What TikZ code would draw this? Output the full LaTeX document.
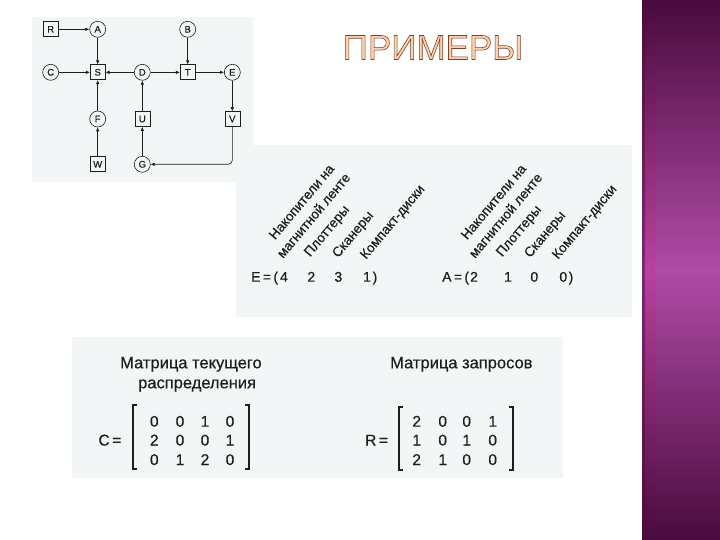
\documentclass[tikz,border=0pt]{standalone}
\usepackage{fontspec}
\setmainfont{Liberation Sans}
\setsansfont{Liberation Sans}
\newfontfamily\medfont[FakeBold=0.45]{Liberation Sans}
\usetikzlibrary{arrows.meta}
\definecolor{panel}{HTML}{F2F6F6}
\definecolor{pdark}{HTML}{4A0B3E}
\definecolor{pmid}{HTML}{B04BA6}
\definecolor{pstripe}{HTML}{C03C9C}
\definecolor{ink}{HTML}{1E1E1E}
\definecolor{titlefill}{HTML}{F9D3B0}
\newcommand{\fsz}[1]{\medfont\fontsize{#1}{#1}\selectfont}
\tikzset{
  gnode/.style={draw=ink, line width=0.6pt, fill=panel, text=ink, font=\fsz{9.5}, inner sep=0pt},
  sqnode/.style={gnode, rectangle, minimum size=15pt},
  cirnode/.style={gnode, circle, minimum size=16pt},
  garrow/.style={-{Latex[length=4pt,width=3.5pt]}, draw=ink, line width=0.6pt},
  panelbox/.style={fill=panel, draw=none},
  lbl/.style={anchor=base west, rotate=50, inner sep=0pt, text=ink, font=\fsz{13.5}},
  vec/.style={anchor=base, inner sep=0pt, text=ink, font=\fsz{14}},
  num/.style={anchor=base, inner sep=0pt, text=ink, font=\fsz{15.5}},
  head/.style={anchor=base west, inner sep=0pt, text=ink, font=\fsz{16.5}},
  brk/.style={draw=ink, line width=1.3pt}
}
\begin{document}
\begin{tikzpicture}[x=1pt,y=-1pt]
\useasboundingbox (0,0) rectangle (720,540);
\fill[white] (0,0) rectangle (720,540);
% purple side panel
\shade[top color=pdark, bottom color=pdark, middle color=pmid] (642,0) rectangle (720,540);
\shade[top color=pdark, bottom color=pdark, middle color=pstripe, opacity=0.7] (645,0) rectangle (655,540);
\fill[pdark, opacity=0.5] (642,0) rectangle (645,540);

% panels
\fill[panelbox] (32,17) rectangle (253,182);
\fill[panelbox] (236,145) rectangle (632,317);
\fill[panelbox] (72,337) rectangle (563,478);

% title
\node[inner sep=0pt, font=\fontsize{35}{35}\selectfont] (title) at (433,47.5)
  {\color{titlefill}\special{pdf:literal direct 2 Tr 0.6 w 0.5 0.25 0.15 RG}ПРИМЕРЫ\special{pdf:literal direct 0 Tr}};

% graph
\node[sqnode] (R) at (50.7,29.3) {R};
\node[cirnode] (A) at (97.7,29.3) {A};
\node[cirnode] (B) at (187.7,29.3) {B};
\node[cirnode] (C) at (50.7,72.3) {C};
\node[sqnode] (S) at (97.7,72.3) {S};
\node[cirnode] (D) at (142.3,72.3) {D};
\node[sqnode] (T) at (187.7,72.3) {T};
\node[cirnode] (E) at (232.3,72.3) {E};
\node[cirnode] (F) at (97.7,119) {F};
\node[sqnode] (U) at (142.3,119) {U};
\node[sqnode] (V) at (232.3,119) {V};
\node[sqnode] (W) at (97.7,164.3) {W};
\node[cirnode] (G) at (142.3,164.3) {G};
\draw[garrow] (R) -- (A);
\draw[garrow] (A) -- (S);
\draw[garrow] (C) -- (S);
\draw[garrow] (D) -- (S);
\draw[garrow] (D) -- (T);
\draw[garrow] (B) -- (T);
\draw[garrow] (T) -- (E);
\draw[garrow] (E) -- (V);
\draw[garrow] (F) -- (S);
\draw[garrow] (W) -- (F);
\draw[garrow] (U) -- (D);
\draw[garrow] (G) -- (U);
\draw[garrow, rounded corners=4pt] (V.south) |- (G.east);

% resource vectors
\node[lbl] (e1) at (275,240.5) {Накопители на};
\node[lbl] (e2) at (283,259) {магнитной ленте};
\node[lbl] (e3) at (310,257.5) {Плоттеры};
\node[lbl] (e4) at (338,258.5) {Сканеры};
\node[lbl] (e5) at (366,260) {Компакт-диски};
\node[vec, anchor=base west] (Eeq) at (251,281.7) {E\,=\,(};
\node[vec] (E1) at (284,281.7) {4};
\node[vec] (E2) at (311.3,281.7) {2};
\node[vec] (E3) at (338.3,281.7) {3};
\node[vec] (E4) at (367,281.7) {1};
\node[vec] (Ecl) at (375,281.7) {)};

\node[lbl] (a1) at (467,240.5) {Накопители на};
\node[lbl] (a2) at (475,259) {магнитной ленте};
\node[lbl] (a3) at (502,257.5) {Плоттеры};
\node[lbl] (a4) at (530,258.5) {Сканеры};
\node[lbl] (a5) at (558,260) {Компакт-диски};
\node[vec, anchor=base west] (Aeq) at (442,281.7) {A\,=\,(};
\node[vec] (A1) at (474,281.7) {2};
\node[vec] (A2) at (508,281.7) {1};
\node[vec] (A3) at (534.3,281.7) {0};
\node[vec] (A4) at (563.3,281.7) {0};
\node[vec] (Acl) at (571,281.7) {)};

% matrices
\node[head] (hc1) at (120,368.3) {Матрица текущего};
\node[head] (hc2) at (138,388.3) {распределения};
\node[head] (hr) at (390,368.3) {Матрица запросов};

\node[num, anchor=base west] (Ceq) at (98.3,445.5) {C\,=};
\draw[brk] (137,405) -- (133,405) -- (133,469) -- (137,469);
\draw[brk] (245,405) -- (249,405) -- (249,469) -- (245,469);
\node[num] (c11) at (154.3,426.7) {0};
\node[num] (c12) at (180,426.7) {0};
\node[num] (c13) at (205,426.7) {1};
\node[num] (c14) at (230,426.7) {0};
\node[num] (c21) at (154.3,445.5) {2};
\node[num] (c22) at (180,445.5) {0};
\node[num] (c23) at (205,445.5) {0};
\node[num] (c24) at (230,445.5) {1};
\node[num] (c31) at (154.3,465) {0};
\node[num] (c32) at (180,465) {1};
\node[num] (c33) at (205,465) {2};
\node[num] (c34) at (230,465) {0};

\node[num, anchor=base west] (Req) at (365,445.5) {R\,=};
\draw[brk] (403,407) -- (399,407) -- (399,470) -- (403,470);
\draw[brk] (509,407) -- (513,407) -- (513,470) -- (509,470);
\node[num] (r11) at (416.7,426.7) {2};
\node[num] (r12) at (442.7,426.7) {0};
\node[num] (r13) at (466.7,426.7) {0};
\node[num] (r14) at (492.7,426.7) {1};
\node[num] (r21) at (416.7,445.5) {1};
\node[num] (r22) at (442.7,445.5) {0};
\node[num] (r23) at (466.7,445.5) {1};
\node[num] (r24) at (492.7,445.5) {0};
\node[num] (r31) at (416.7,465) {2};
\node[num] (r32) at (442.7,465) {1};
\node[num] (r33) at (466.7,465) {0};
\node[num] (r34) at (492.7,465) {0};
\end{tikzpicture}
\end{document}
